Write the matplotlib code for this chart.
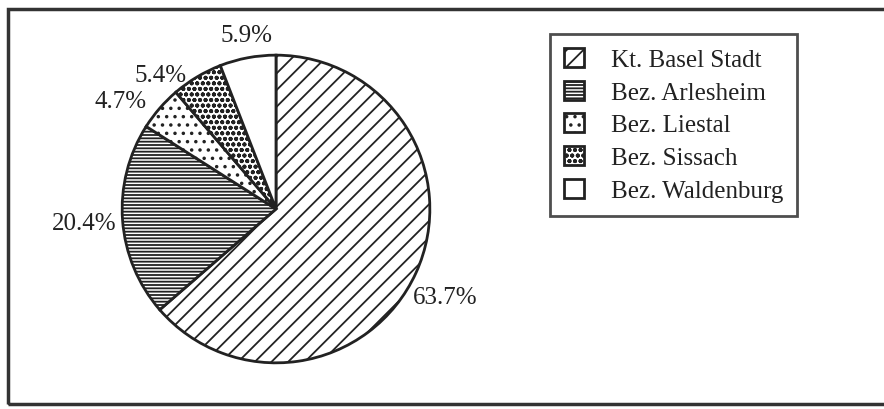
import numpy as np
import matplotlib.pyplot as plt
from matplotlib.patches import Rectangle

plt.rcParams['font.family'] = ['Liberation Serif', 'DejaVu Serif']
plt.rcParams['hatch.linewidth'] = 1.3

# pie data
names = ["Kt. Basel Stadt", "Bez. Arlesheim", "Bez. Liestal", "Bez. Sissach", "Bez. Waldenburg"]
shares = [63.7, 20.4, 4.7, 5.4, 5.9]
pct_labels = ["63.7%", "20.4%", "4.7%", "5.4%", "5.9%"]
hatches = ["//", "-----", "..", "ooo", ""]

# label placement (radius in pie radii, angle nudge in degrees)
label_r = [1.24, 1.25, 1.23, 1.15, 1.15]
label_shift = [-3, 0, 6, 10, -1]

fig = plt.figure(figsize=(8.84, 4.10), dpi=100)

# outer frame of the scanned figure
fig.patches.append(Rectangle((8 / 884, 5 / 410), 1.0, 1 - 15 / 410, transform=fig.transFigure,
                             fill=False, edgecolor='#333333', linewidth=2.5, zorder=0))

# pie axes: centre ~ (276, 210) px, radius ~154 px
ax = fig.add_axes([(276 - 160) / 884, (200 - 160) / 410, 320 / 884, 320 / 410])
wedges, texts = ax.pie(shares, labels=pct_labels, startangle=90, counterclock=False,
                       colors=['white'] * 5, labeldistance=1.2,
                       wedgeprops=dict(edgecolor='#222222', linewidth=2),
                       textprops=dict(fontsize=18, ha='center', va='center', color='#222222'))
for w, h, t, r, s in zip(wedges, hatches, texts, label_r, label_shift):
    w.set_hatch(h)
    w.set_clip_on(False)
    mid = np.deg2rad((w.theta1 + w.theta2) / 2 + s)
    t.set_position((r * np.cos(mid), r * np.sin(mid)))
ax.set_xlim(-1.04, 1.04)
ax.set_ylim(-1.04, 1.04)
ax.set_aspect('equal')

leg = fig.legend(wedges, names, loc='upper left', bbox_to_anchor=(550 / 884, 1 - 35 / 410),
                 fontsize=18, frameon=True, fancybox=False, edgecolor='#222222',
                 handlelength=0.8, handleheight=0.8, handletextpad=1.1,
                 labelspacing=0.38, borderpad=0.55, borderaxespad=0)
leg.get_frame().set_linewidth(2)
for t in leg.get_texts():
    t.set_color('#222222')

fig.savefig('out.png', dpi=100)
